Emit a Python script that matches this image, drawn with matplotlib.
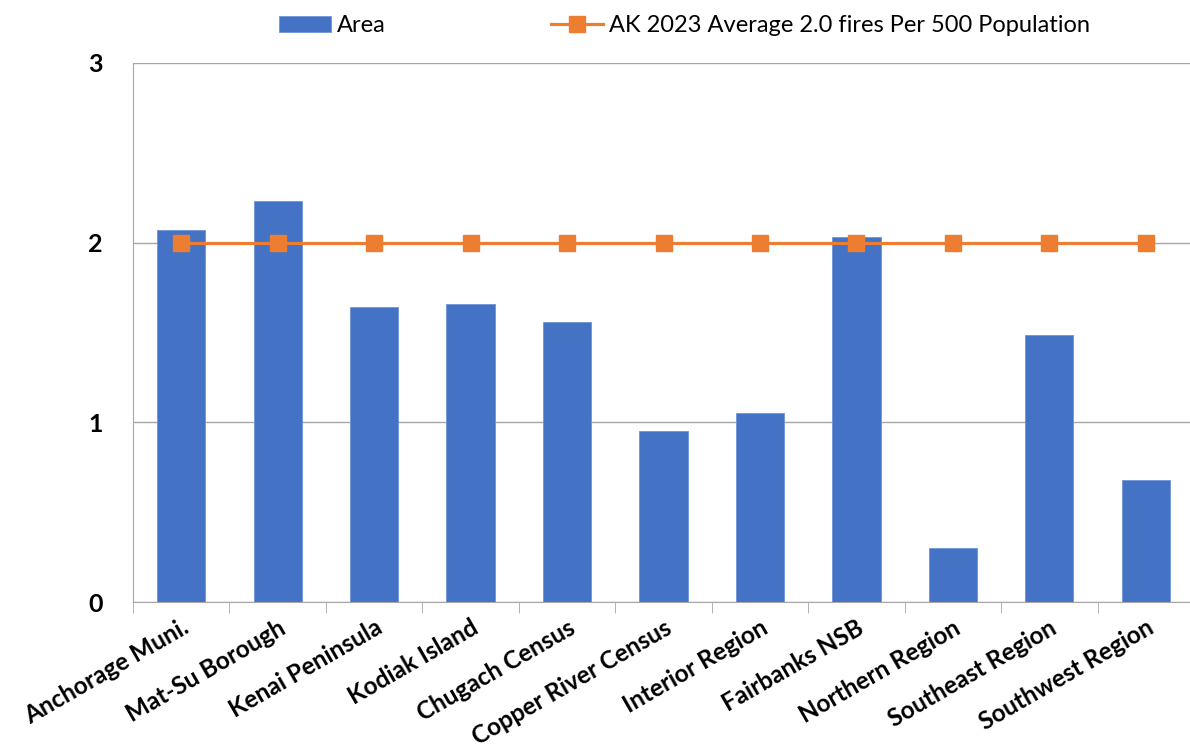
import matplotlib.pyplot as plt
import numpy as np

plt.rcParams['font.family'] = ['Lato', 'DejaVu Sans']

areas = ["Anchorage Muni.", "Mat-Su Borough", "Kenai Peninsula", "Kodiak Island",
         "Chugach Census", "Copper River Census", "Interior Region", "Fairbanks NSB",
         "Northern Region", "Southeast Region", "Southwest Region"]
area_vals = [2.07, 2.23, 1.64, 1.66, 1.56, 0.95, 1.05, 2.03, 0.30, 1.485, 0.68]
avg_vals = [2.0] * len(areas)
bar_label = "Area"
line_label = "AK 2023 Average 2.0 fires Per 500 Population"

blue = '#4472C4'
orange = '#ED7D31'
grid = '#A6A6A6'

fig = plt.figure(figsize=(11.9, 7.5), dpi=100)
ax = fig.add_axes([133 / 1190, 1 - 602 / 750, (1194 - 133) / 1190, 539 / 750])

x = np.arange(len(areas))
bars = ax.bar(x, area_vals, width=0.5, color=blue, edgecolor='#6E93D6', linewidth=0.6,
              label=bar_label, zorder=2)
line, = ax.plot(x, avg_vals, '-s', color=orange, linewidth=2.3, markersize=12,
                label=line_label, zorder=3)

ax.set_xlim(-0.5, len(areas) - 0.5)
ax.set_ylim(0, 3)
ax.set_yticks([0, 1, 2, 3])
ax.set_yticklabels(['0', '1', '2', '3'], fontsize=18, fontweight='bold')
ax.yaxis.grid(True, color=grid, linewidth=1.0, zorder=0)
ax.set_axisbelow(True)

for s in ['top', 'right']:
    ax.spines[s].set_visible(False)
ax.spines['left'].set_color(grid)
ax.spines['bottom'].set_color(grid)

ax.set_xticks(x)
ax.set_xticklabels(areas, rotation=30, ha='right', rotation_mode='anchor',
                   fontsize=17.5, fontweight='bold')
ax.set_xticks(np.arange(len(areas) + 1) - 0.5, minor=True)
ax.tick_params(axis='x', which='major', length=0, pad=10)
ax.tick_params(axis='x', which='minor', length=8, color=grid, direction='out')
ax.tick_params(axis='y', length=0, pad=22)

fig.legend([bars, line], [bar_label, line_label], loc='upper center',
           bbox_to_anchor=(0.575, 1.008), ncol=2, frameon=False,
           fontsize=17, columnspacing=7.0, handlelength=2.2, handletextpad=0.25)

fig.savefig('out.png', dpi=100)
